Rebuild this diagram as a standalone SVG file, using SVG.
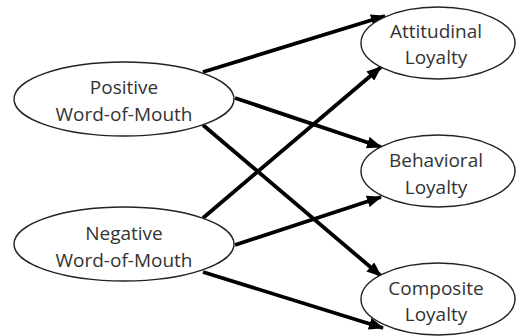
<svg xmlns="http://www.w3.org/2000/svg" width="520" height="336" viewBox="0 0 520 336">
<style>
.node ellipse{fill:#fff;stroke:#222;stroke-width:1.4}
.node text{font-family:"Open Sans","Noto Sans",sans-serif;font-size:19px;fill:#333;text-anchor:middle}
.edge{stroke:#000;stroke-width:3.8;fill:none;marker-end:url(#ah)}
</style>
<defs>
<marker id="ah" markerUnits="userSpaceOnUse" markerWidth="15" markerHeight="12" refX="14" refY="6" orient="auto">
<path d="M0,0 L15,6 L0,12 Z" fill="#000"/>
</marker>
</defs>
<rect width="520" height="336" fill="#fff"/>
<g id="connectors">
<line class="edge" x1="203" y1="72" x2="385" y2="16"/>
<line class="edge" x1="203" y1="218" x2="381" y2="67"/>
<line class="edge" x1="235" y1="98" x2="381" y2="147"/>
<line class="edge" x1="203" y1="125" x2="381" y2="276"/>
<line class="edge" x1="235" y1="245" x2="381" y2="197"/>
<line class="edge" x1="203" y1="272" x2="383" y2="328"/>
</g>
<g id="positive" class="node">
<ellipse cx="124" cy="99" rx="110" ry="37"/>
<text x="124" y="94">Positive</text>
<text x="124" y="121">Word-of-Mouth</text>
</g>
<g id="negative" class="node">
<ellipse cx="124" cy="244" rx="110" ry="37"/>
<text x="124" y="240">Negative</text>
<text x="124" y="267">Word-of-Mouth</text>
</g>
<g id="attitudinal" class="node">
<ellipse cx="438" cy="43" rx="77" ry="36"/>
<text x="436" y="38">Attitudinal</text>
<text x="436" y="64">Loyalty</text>
</g>
<g id="behavioral" class="node">
<ellipse cx="438" cy="171" rx="77" ry="36"/>
<text x="436" y="167">Behavioral</text>
<text x="436" y="194">Loyalty</text>
</g>
<g id="composite" class="node">
<ellipse cx="438" cy="299" rx="77" ry="36"/>
<text x="436" y="295">Composite</text>
<text x="436" y="321">Loyalty</text>
</g>
</svg>
